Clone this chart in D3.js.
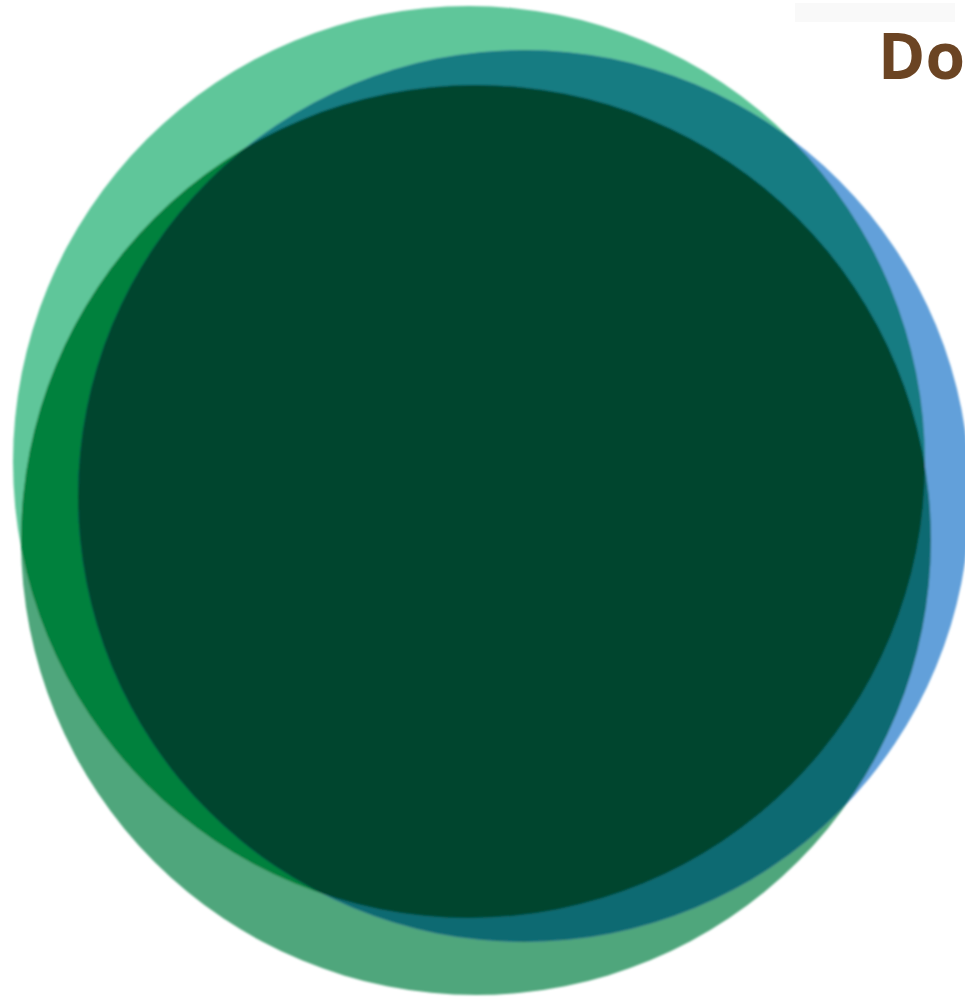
<!DOCTYPE html>
<html><head><meta charset="utf-8">
<script src="https://cdn.jsdelivr.net/npm/d3@7"></script>
<style>body{margin:0;background:#fff;} svg{display:block;}</style>
</head><body>
<svg id="chart" width="965" height="997"></svg>
<script>
// ---- data (Venn sets in abstract units) ----
const setNames = ["Mint", "Green", "Blue"];
const setCx = [4.69, 4.76, 5.24];
const setCy = [4.62, 5.40, 4.96];
const setR  = [4.56, 4.55, 4.46];
const pairKeys = [[0, 1], [0, 2], [1, 2]];
const tripleKey = [0, 1, 2];
const titleText = "Do";

// ---- styles ----
const soloColors = ["#5fc69a", "#4fa67c", "#62a0da"];
const pairColors = ["#02813e", "#147c82", "#0d6b72"];
const tripleColor = "#03452f";

const W = 965, H = 997;
const x = d3.scaleLinear().domain([0, 9.65]).range([0, W]);
const y = d3.scaleLinear().domain([0, 9.97]).range([0, H]);
const r = d3.scaleLinear().domain([0, 1]).range([0, 100]);

const sets = setNames.map((n, i) => ({name: n, cx: setCx[i], cy: setCy[i], r: setR[i], i}));

const svg = d3.select("#chart");
const defs = svg.append("defs");
defs.selectAll("clipPath").data(sets).join("clipPath")
  .attr("id", d => "clip-" + d.i)
  .append("circle")
  .attr("cx", d => x(d.cx)).attr("cy", d => y(d.cy)).attr("r", d => r(d.r));

const f = defs.append("filter").attr("id", "soft").attr("x", "-5%").attr("y", "-5%").attr("width", "110%").attr("height", "110%");
f.append("feGaussianBlur").attr("stdDeviation", 0.8);

// faint band at top right
svg.append("rect").attr("x", 795).attr("y", 3).attr("width", 160).attr("height", 19).attr("fill", "#f9f9f9");

const g = svg.append("g").attr("filter", "url(#soft)");

// solo circles
g.append("g").selectAll("circle").data(sets).join("circle")
  .attr("cx", d => x(d.cx)).attr("cy", d => y(d.cy)).attr("r", d => r(d.r))
  .attr("fill", (d, i) => soloColors[i]);

// pair overlaps
const pg = g.append("g");
pairKeys.forEach((pk, k) => {
  const a = sets[pk[0]], b = sets[pk[1]];
  pg.append("circle")
    .attr("cx", x(a.cx)).attr("cy", y(a.cy)).attr("r", r(a.r))
    .attr("clip-path", "url(#clip-" + b.i + ")")
    .attr("fill", pairColors[k]);
});

// triple overlap
const t = sets[tripleKey[0]];
g.append("g").attr("clip-path", "url(#clip-" + tripleKey[2] + ")")
  .append("circle")
  .attr("cx", x(t.cx)).attr("cy", y(t.cy)).attr("r", r(t.r))
  .attr("clip-path", "url(#clip-" + tripleKey[1] + ")")
  .attr("fill", tripleColor);

// title (cut off at the right edge)
svg.append("text")
  .attr("x", 878).attr("y", 79)
  .attr("font-family", "'Open Sans', 'Noto Sans', sans-serif")
  .attr("font-weight", 700)
  .attr("font-size", 64)
  .attr("fill", "#6b4423")
  .text(titleText);
</script>
</body></html>
